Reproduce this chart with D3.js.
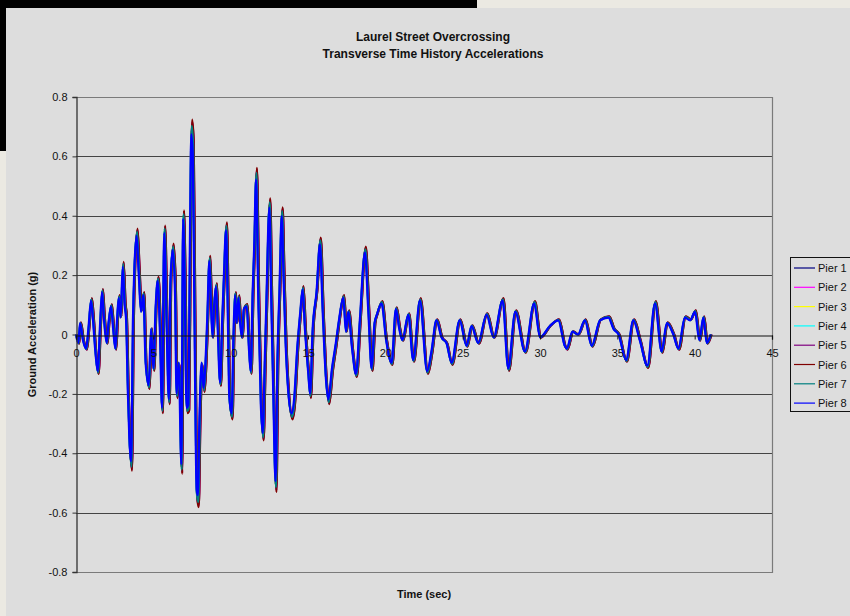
<!DOCTYPE html>
<html>
<head>
<meta charset="utf-8">
<script src="https://cdn.jsdelivr.net/npm/d3@7"></script>
<style>
  html, body { margin: 0; padding: 0; background: #ebe9e2; }
  svg { display: block; font-family: Arial, "Liberation Sans", sans-serif; }
</style>
</head>
<body>
<svg id="chart" width="850" height="616"></svg>
<script>
// ---- Data ----
const titleLines = ["Laurel Street Overcrossing", "Transverse Time History Accelerations"];
const xLabel = "Time (sec)";
const yLabel = "Ground Acceleration (g)";
const xTicks = [0, 5, 10, 15, 20, 25, 30, 35, 40, 45];
const yTicks = [-0.8, -0.6, -0.4, -0.2, 0, 0.2, 0.4, 0.6, 0.8];
const piers = ["Pier 1", "Pier 2", "Pier 3", "Pier 4", "Pier 5", "Pier 6", "Pier 7", "Pier 8"];
const pierColors = ["#000080", "#FF00FF", "#FFFF00", "#00FFFF", "#800080", "#800000", "#008080", "#0000FF"];
// relative amplitude and time offset (s) of each pier record
const pierGain = [0.97, 1.0, 0.97, 0.97, 1.01, 1.02, 0.99, 0.95];
const pierLag  = [0.02, 0.05, 0.02, 0.02, 0.06, 0.06, 0.03, 0.0];

const timeSec = [
  0.0,0.15,0.26,0.45,0.65,0.8,0.97,1.1,1.25,1.4,1.55,1.68,1.8,1.98,2.1,2.26,2.4,2.54,2.65,2.76,
  2.88,3.02,3.15,3.23,3.35,3.45,3.56,3.68,3.77,3.92,4.05,4.2,4.35,4.5,4.7,4.85,5.0,5.15,5.28,5.42,
  5.56,5.7,5.85,6.0,6.1,6.25,6.4,6.5,6.64,6.81,6.92,7.02,7.15,7.26,7.36,7.45,7.55,7.65,7.8,7.88,
  7.98,8.12,8.25,8.35,8.48,8.62,8.7,8.82,8.95,9.05,9.15,9.31,9.45,9.55,9.7,9.82,9.91,10.06,10.18,10.28,
  10.38,10.5,10.6,10.72,10.85,11.03,11.18,11.29,11.42,11.52,11.64,11.78,11.95,12.07,12.2,12.3,12.5,12.62,12.75,12.9,
  13.02,13.15,13.3,13.42,13.55,13.72,13.94,14.1,14.3,14.5,14.65,14.8,15.02,15.13,15.3,15.55,15.77,15.95,16.15,16.31,
  16.55,16.8,17.0,17.28,17.45,17.6,17.85,18.1,18.35,18.68,18.9,19.11,19.3,19.45,19.75,20.05,20.4,20.68,20.9,21.1,
  21.48,21.8,22.23,22.7,22.98,23.3,23.63,23.95,24.28,24.8,25.25,25.57,26.0,26.54,27.0,27.58,27.94,28.4,29.02,29.62,
  30.0,30.64,31.18,31.6,31.72,32.1,32.45,32.9,33.34,33.88,34.42,34.75,35.08,35.56,36.03,36.45,36.94,37.43,37.86,38.2,
  38.62,38.94,39.37,39.7,40.02,40.3,40.56,40.78,41.03
];
// ground acceleration (g) at those times
const accelG = [
  0.0,-0.03,0.04,-0.02,-0.05,0.02,0.12,0.05,-0.06,-0.13,0.03,0.15,0.06,-0.03,0.04,0.10,0.02,-0.05,0.05,0.13,
  0.06,0.24,0.10,0.06,-0.20,-0.37,-0.45,0.05,0.23,0.35,0.22,0.08,0.14,-0.10,-0.18,0.02,-0.12,0.10,0.19,0.02,
  -0.26,0.36,0.05,-0.23,0.18,0.30,0.15,-0.21,-0.10,-0.46,0.41,0.20,-0.26,-0.25,0.30,0.71,0.64,0.10,-0.55,-0.57,
  -0.30,-0.10,-0.19,-0.12,0.05,0.26,0.15,-0.01,0.12,0.17,0.04,-0.17,0.05,0.19,0.37,0.05,-0.22,-0.28,0.00,0.14,
  0.04,0.13,0.05,-0.01,0.09,0.10,-0.05,-0.13,0.15,0.31,0.55,0.14,-0.25,-0.35,-0.10,0.10,0.45,0.13,-0.20,-0.52,
  -0.09,0.15,0.42,0.20,-0.03,-0.20,-0.28,-0.23,-0.05,0.08,0.16,0.02,-0.14,-0.21,0.02,0.15,0.32,0.08,-0.15,-0.23,
  -0.12,-0.03,0.05,0.13,0.01,0.08,-0.05,-0.14,0.05,0.29,0.08,-0.12,0.04,0.07,0.11,-0.02,-0.10,0.09,0.02,-0.02,
  0.07,-0.09,0.12,-0.13,-0.06,0.05,-0.01,-0.03,-0.10,0.05,-0.04,0.03,-0.03,0.07,-0.01,0.12,-0.12,0.08,-0.06,0.11,
  -0.01,0.03,0.05,-0.04,-0.05,0.01,0.0,0.05,-0.04,0.05,0.06,0.02,0.0,-0.09,0.05,-0.02,-0.11,0.11,-0.06,0.04,
  0.0,-0.05,0.06,0.05,0.08,-0.02,0.06,-0.03,0.0
];

// ---- Layout ----
const svg = d3.select("#chart");
const W = 850, H = 616;
const plot = { left: 76, right: 772, top: 97, bottom: 572 };

// backdrop pieces of the surrounding screen
svg.append("rect").attr("x", 0).attr("y", 0).attr("width", W).attr("height", H).attr("fill", "#ebe9e2");
svg.append("rect").attr("x", 0).attr("y", 0).attr("width", 477).attr("height", 8).attr("fill", "#000");
svg.append("rect").attr("x", 0).attr("y", 0).attr("width", 6).attr("height", 151).attr("fill", "#000");
// chart area
svg.append("rect").attr("x", 6).attr("y", 8).attr("width", W - 6).attr("height", H - 8).attr("fill", "#dddddd");

const x = d3.scaleLinear().domain([0, 45]).range([plot.left, plot.right]);
const y = d3.scaleLinear().domain([-0.8, 0.8]).range([plot.bottom, plot.top]);

// horizontal gridlines
svg.append("g").selectAll("line").data(yTicks.filter(v => v !== 0 && v !== -0.8 && v !== 0.8)).join("line")
  .attr("x1", plot.left).attr("x2", plot.right)
  .attr("y1", d => Math.round(y(d)) + 0.5).attr("y2", d => Math.round(y(d)) + 0.5)
  .attr("stroke", "#444").attr("stroke-width", 1);

// plot border (top/right/bottom)
svg.append("path")
  .attr("d", `M${plot.left},${plot.top + 0.5}H${plot.right + 0.5}V${plot.bottom + 0.5}H${plot.left}`)
  .attr("fill", "none").attr("stroke", "#7a7a7a").attr("stroke-width", 1.2);

// series
const line = d3.line().x(d => x(d[0])).y(d => y(d[1])).curve(d3.curveMonotoneX);
const seriesG = svg.append("g");
piers.forEach((p, i) => {
  const pts = timeSec.map((t, k) => [t + pierLag[i], accelG[k] * pierGain[i]]);
  seriesG.append("path").datum(pts)
    .attr("d", line).attr("fill", "none")
    .attr("stroke", pierColors[i]).attr("stroke-width", 2.2)
    .attr("stroke-linejoin", "round");
});

// y axis
const yAxis = svg.append("g").attr("transform", `translate(${plot.left + 0.5},0)`)
  .call(d3.axisLeft(y).tickValues(yTicks).tickSize(4).tickPadding(5)
    .tickFormat(d => String(+d.toFixed(1))));
yAxis.select(".domain").attr("stroke", "#333").attr("stroke-width", 1.3);
yAxis.selectAll(".tick line").attr("stroke", "#333");
yAxis.selectAll("text").attr("font-size", 11).attr("fill", "#111")
  .attr("font-family", "Arial, 'Liberation Sans', sans-serif");

// x axis at zero
const xAxis = svg.append("g").attr("transform", `translate(0,${Math.round(y(0)) + 0.5})`)
  .call(d3.axisBottom(x).tickValues(xTicks).tickSize(4).tickPadding(10).tickFormat(d3.format("d")));
xAxis.select(".domain").attr("stroke", "#111").attr("stroke-width", 1.2);
xAxis.selectAll(".tick line").attr("stroke", "#111");
xAxis.selectAll("text").attr("font-size", 11).attr("fill", "#111")
  .attr("font-family", "Arial, 'Liberation Sans', sans-serif");

// titles
svg.append("text").attr("x", 433).attr("y", 41).attr("text-anchor", "middle")
  .attr("font-size", 12).attr("font-weight", "bold").attr("fill", "#111").text(titleLines[0]);
svg.append("text").attr("x", 433).attr("y", 58).attr("text-anchor", "middle")
  .attr("font-size", 12).attr("font-weight", "bold").attr("fill", "#111").text(titleLines[1]);
svg.append("text").attr("x", 424).attr("y", 598).attr("text-anchor", "middle")
  .attr("font-size", 11).attr("font-weight", "bold").attr("fill", "#111").text(xLabel);
svg.append("text").attr("transform", `translate(36,${(plot.top + plot.bottom) / 2}) rotate(-90)`)
  .attr("text-anchor", "middle").attr("font-size", 11).attr("font-weight", "bold").attr("fill", "#111").text(yLabel);

// legend
const lg = svg.append("g");
lg.append("rect").attr("x", 790.5).attr("y", 257.5).attr("width", 80).attr("height", 154)
  .attr("fill", "#dddddd").attr("stroke", "#111").attr("stroke-width", 1);
piers.forEach((p, i) => {
  const yy = 268 + i * 19.3;
  lg.append("line").attr("x1", 794).attr("x2", 815).attr("y1", yy).attr("y2", yy)
    .attr("stroke", pierColors[i]).attr("stroke-width", 1.2);
  lg.append("text").attr("x", 818).attr("y", yy + 4).attr("font-size", 11).attr("fill", "#111").text(p);
});
</script>
</body>
</html>
